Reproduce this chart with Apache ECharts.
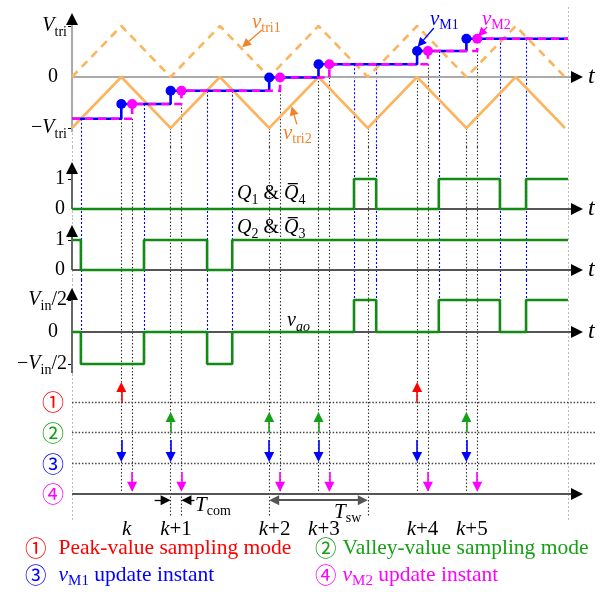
<!DOCTYPE html>
<html>
<head>
<meta charset="utf-8">
<script src="https://cdn.jsdelivr.net/npm/echarts@6.0.0/dist/echarts.min.js"></script>
<style>
html,body{margin:0;padding:0;background:#fff;}
#chart{width:602px;height:592px;}
</style>
</head>
<body>
<div id="chart"></div>
<script>
// ===== DATA (time unit = half carrier period) =====
const triTimes = [0,1,2,3,4,5,6,7,8,9,10];
const vtri1    = [0,1,0,1,0,1,0,1,0,1,0];
const vtri2    = [-1,0,-1,0,-1,0,-1,0,-1,0,-1];

const sampleTimes  = [1,2,4,5,7,8];
const sampleLabels = ['k','k+1','k+2','k+3','k+4','k+5'];
const sampleModes  = ['peak','valley','valley','valley','peak','valley'];
const tCom = 0.22;
const vMInit   = -0.82;
const vMLevels = [-0.53,-0.27,-0.01,0.25,0.51,0.75];
const tEnd = 10.06;

const q1Times  = [0,5.72,6.17,7.44,8.68,9.21];
const q1Vals   = [0,1,0,1,0,1];
const q2Times  = [0,0.18,1.46,2.74,3.25];
const q2Vals   = [1,0,1,0,1];
const vaoTimes = [0,0.18,1.46,2.74,3.25,5.72,6.17,7.44,8.68,9.21];
const vaoVals  = [0,-1,0,-1,0,1,0,1,0,1];

const tswSpan = [4,6];
const tcomIndex = 1;   // T_com marked at sample k+1

const yTicks0 = [1,0,-1];
const yTicks1 = [1,0];
const yTicks3 = [1,0,-1];
const rowValues = [3,2,1,0];
const rowLabels = ['①','②','③','④'];

// ===== LAYOUT =====
const PX = 49.3, LEFT = 72, TMAX = 10.365, TROW = 10.61;
const GRIDS = [
  {top:0,   bottom:147, zero:77,  scale:51},
  {top:147, bottom:218, zero:209, scale:30},
  {top:218, bottom:280, zero:270, scale:30},
  {top:280, bottom:374, zero:332, scale:32},
  {top:374, bottom:494, zero:494, scale:30.67}
];
const BOTTOM_END = -0.85;
const yMin = g => -(g.bottom - g.zero) / g.scale;
const yMax = g => (g.zero - g.top) / g.scale;
const off = (gi, p, dx, dy) => [p[0] + dx / PX, p[1] - dy / GRIDS[gi].scale];

const SERIF = '"Liberation Serif","Times New Roman",serif';
const CJK = '"Noto Sans CJK SC","Noto Sans CJK JP",sans-serif';
const ORANGE = '#FDB45E', ORANGE_T = '#F0832A', GREEN = '#138A13';
const BLUE = '#0000FF', MAG = '#FF00FF', RED = '#FF0000', LGREEN = '#16A016';

function rich(size, color, cGap) {
  const sub = Math.round(size * 0.68);
  const c = {color: color, fill: color};
  return {
    i:  Object.assign({fontFamily:SERIF, fontStyle:'italic', fontSize:size, lineHeight:size+6}, c),
    n:  Object.assign({fontFamily:SERIF, fontSize:size, lineHeight:size+6}, c),
    z:  Object.assign({fontFamily:SERIF, fontSize:size, lineHeight:size+6, padding:[0,9,0,0]}, c),
    s:  Object.assign({fontFamily:SERIF, fontSize:sub, lineHeight:sub, verticalAlign:'bottom'}, c),
    si: Object.assign({fontFamily:SERIF, fontStyle:'italic', fontSize:sub, lineHeight:sub, verticalAlign:'bottom'}, c),
    c:  Object.assign({fontFamily:CJK, fontSize:size, lineHeight:size+6, padding:[0,cGap||12,0,0]}, c)
  };
}

// ===== HELPERS =====
const stepData = (times, vals) => times.map((t,i)=>[t, vals[i]]).concat([[tEnd, vals[vals.length-1]]]);
function stepVal(times, vals, t) { let v = vals[0]; for (let i=0;i<times.length;i++) if (times[i] <= t + 1e-9) v = vals[i]; return v; }
function interp(ts, vs, t) {
  for (let i=0;i<ts.length-1;i++) if (t >= ts[i] && t <= ts[i+1]) return vs[i] + (vs[i+1]-vs[i])*(t-ts[i])/(ts[i+1]-ts[i]);
  return vs[vs.length-1];
}
const vMTimes1 = [0].concat(sampleTimes);
const vMTimes2 = [0].concat(sampleTimes.map(t=>t+tCom));
const vMVals = [vMInit].concat(vMLevels);

const series = [];
function addLines(gi, coordsList, style, opts) {
  if (!coordsList.length) return;
  series.push(Object.assign({
    type:'lines', coordinateSystem:'cartesian2d', xAxisIndex:gi, yAxisIndex:gi,
    silent:true, clip:false, animation:false, symbol:'none', z:2,
    lineStyle: Object.assign({opacity:1, curveness:0}, style),
    data: coordsList.map(c=>({coords:c}))
  }, opts || {}));
}
function vertical(t, g0, v0, g1, v1, buckets) {
  for (let gi=g0; gi<=g1; gi++) {
    const a = gi===g0 ? v0 : yMax(GRIDS[gi]);
    const b = gi===g1 ? v1 : yMin(GRIDS[gi]);
    buckets[gi].push([[t,a],[t,b]]);
  }
}
const emptyBuckets = () => GRIDS.map(()=>[]);

// ---- light grey border lines ----
const greyB = emptyBuckets();
vertical(0, 0, -1.02, 4, BOTTOM_END, greyB);
vertical(tEnd, 0, yMax(GRIDS[0]) - 7/51, 4, BOTTOM_END, greyB);
greyB.forEach((b,gi)=>addLines(gi, b, {color:'#bbb', width:1, type:[2,2]}));

// ---- black dotted sample lines ----
const dimTimes = [sampleTimes[tcomIndex], sampleTimes[tcomIndex]+tCom, tswSpan[0], tswSpan[1]];
const blackB = emptyBuckets();
const sampleLineDefs = [];
sampleTimes.forEach((t,i)=>{
  const old = vMVals[i];
  sampleLineDefs.push([t, Math.min(old, interp(triTimes, vtri2, t))]);
  sampleLineDefs.push([t+tCom, old]);
});
if (!sampleTimes.includes(tswSpan[1])) sampleLineDefs.push([tswSpan[1], interp(triTimes, vtri2, tswSpan[1])]);
sampleLineDefs.forEach(([t,start])=>{
  const ext = dimTimes.some(d=>Math.abs(d-t)<1e-6);
  vertical(t, 0, start, 4, ext ? -0.7 : -0.06, blackB);
});
blackB.forEach((b,gi)=>addLines(gi, b, {color:'#333', width:1.1, type:[1.5,2]}));

// ---- blue dotted switching lines ----
const blueB = emptyBuckets();
vaoTimes.slice(1).forEach((t,i)=>{
  const start = stepVal(vMTimes2, vMVals, t);
  const before = vaoVals[i], after = vaoVals[i+1];
  const end = before !== 0 ? before : after;
  vertical(t, 0, start, 3, end, blueB);
});
blueB.forEach((b,gi)=>addLines(gi, b, {color:BLUE, width:1.1, type:[2,2]}));

// ---- axes drawn from data extents ----
const yAxisDefs = [
  {gi:0, lo:-1.08, tip:1.255, color:'#aaa'},
  {gi:1, lo:0,     tip:(209-162)/30, color:'#666'},
  {gi:2, lo:0,     tip:(270-225)/30, color:'#666'},
  {gi:3, lo:-1.28, tip:(332-288)/32, color:'#666'}
];
const arrowHeads = emptyBuckets();
yAxisDefs.forEach(d=>{
  const tip = [0, d.tip];
  addLines(d.gi, [[[0,d.lo], off(d.gi, tip, 0, 6)]], {color:d.color, width:2});
  arrowHeads[d.gi].push([off(d.gi, tip, 0, 10), off(d.gi, tip, 0, 6)]);
});
[0,1,2,3,4].forEach(gi=>{
  const tip = [TMAX, 0];
  addLines(gi, [[[0,0], off(gi, tip, -6, 0)]], {color: gi===0 ? '#aaa' : '#555', width:2});
  arrowHeads[gi].push([off(gi, tip, -10, 0), off(gi, tip, -6, 0)]);
});
arrowHeads.forEach((b,gi)=>addLines(gi, b, {color:'#000', width:1}, {symbol:['none','triangle'], symbolSize:12, z:5}));

// ---- event row lines ----
addLines(4, rowValues.slice(0,3).map(v=>[[0,v],[TROW,v]]), {color:'#444', width:1.4, type:[1.5,1.8]});

// ---- waveforms ----
series.push({type:'line', xAxisIndex:0, yAxisIndex:0, data:triTimes.map((t,i)=>[t,vtri1[i]]), symbol:'none',
  lineStyle:{color:ORANGE, width:2.6, type:[8,6]}, z:3, animation:false, silent:true});
series.push({type:'line', xAxisIndex:0, yAxisIndex:0, data:triTimes.map((t,i)=>[t,vtri2[i]]), symbol:'none',
  lineStyle:{color:ORANGE, width:2.6}, z:3, animation:false, silent:true});
series.push({type:'line', xAxisIndex:0, yAxisIndex:0, data:stepData(vMTimes1, vMVals), step:'end', symbol:'none',
  lineStyle:{color:BLUE, width:2.6}, z:4, animation:false, silent:true});
series.push({type:'line', xAxisIndex:0, yAxisIndex:0, data:stepData(vMTimes2, vMVals), step:'end', symbol:'none',
  lineStyle:{color:MAG, width:2.6, type:[8,5]}, z:4, animation:false, silent:true});
series.push({type:'scatter', xAxisIndex:0, yAxisIndex:0, data:sampleTimes.map((t,i)=>[t, vMLevels[i]]),
  symbolSize:10, itemStyle:{color:BLUE, opacity:1}, z:6, animation:false, silent:true});
series.push({type:'scatter', xAxisIndex:0, yAxisIndex:0, data:sampleTimes.map((t,i)=>[t+tCom, vMLevels[i]]),
  symbolSize:10, itemStyle:{color:MAG, opacity:1}, z:6, animation:false, silent:true});
[[1,q1Times,q1Vals],[2,q2Times,q2Vals],[3,vaoTimes,vaoVals]].forEach(([gi,ts,vs])=>{
  series.push({type:'line', xAxisIndex:gi, yAxisIndex:gi, data:stepData(ts,vs), step:'end', symbol:'none',
    lineStyle:{color:GREEN, width:2.6}, z:4, animation:false, silent:true});
});

// ---- event arrows ----
const evArrows = {red:[], green:[], blue:[], mag:[]};
sampleTimes.forEach((t,i)=>{
  if (sampleModes[i]==='peak') evArrows.red.push([[t,3], off(4,[t,3.65],0,5)]);
  else evArrows.green.push([[t,2], off(4,[t,2.67],0,5)]);
  evArrows.blue.push([[t,1.76], off(4,[t,1.04],0,-5)]);
  evArrows.mag.push([[t+tCom,0.72], off(4,[t+tCom,0.07],0,-5)]);
});
[['red',RED],['green',LGREEN],['blue',BLUE],['mag',MAG]].forEach(([k,c])=>{
  addLines(4, evArrows[k], {color:c, width:1.6}, {symbol:['none','triangle'], symbolSize:10, z:5});
});

// ---- T_com and T_sw dimension arrows ----
const tc0 = sampleTimes[tcomIndex], tc1 = tc0 + tCom, yd = -0.2;
addLines(4, [[off(4,[tc0,yd],-16,0), off(4,[tc0,yd],-5,0)], [off(4,[tc1,yd],13,0), off(4,[tc1,yd],5,0)]],
  {color:'#000', width:1.3}, {symbol:['none','triangle'], symbolSize:10, z:5});
addLines(4, [[off(4,[tswSpan[0],yd],5,0), off(4,[tswSpan[1],yd],-5,0)]],
  {color:'#555', width:2}, {symbol:['triangle','triangle'], symbolSize:10, z:5});

// ---- annotation pointers ----
addLines(0, [[[3.85,0.92],[3.52,0.64]]], {color:ORANGE_T, width:1.3}, {symbol:['none','triangle'], symbolSize:9, z:6});
addLines(0, [[[4.56,-0.93],[4.48,-0.66]]], {color:ORANGE_T, width:1.3}, {symbol:['none','triangle'], symbolSize:9, z:6});
addLines(0, [[[7.34,0.96],[7.07,0.66]]], {color:BLUE, width:1.3}, {symbol:['none','triangle'], symbolSize:9, z:6});
addLines(0, [[[8.42,0.98],[8.3,0.86]]], {color:MAG, width:1.3}, {symbol:['none','triangle'], symbolSize:9, z:6});

// ===== AXES =====
const near = (a,b)=>Math.abs(a-b)<1e-6;
const yLabelFmt = [
  v => near(v,1) ? '{i|V}{s|tri}' : near(v,0) ? '{z|0}' : '{n|−}{i|V}{s|tri}',
  v => near(v,1) ? '{n|1}' : '{n|0}',
  v => near(v,1) ? '{n|1}' : '{n|0}',
  v => near(v,1) ? '{i|V}{s|in}{n|/2}' : near(v,0) ? '{z|0}' : '{n|−}{i|V}{s|in}{n|/2}',
  v => { const i = rowValues.findIndex(r=>near(r,v)); return '{c'+(i+1)+'|'+rowLabels[i]+'}'; }
];
const rowRich = {};
[RED, LGREEN, BLUE, MAG].forEach((c,i)=>{ rowRich['c'+(i+1)] = {fontFamily:CJK, fontSize:22, color:c}; });
const yTickVals = [yTicks0, yTicks1, yTicks1, yTicks3, rowValues];
const yTickMarks = [[1,-1],[1],[1],[1,-1],[]];
const yMargins = [5,7,7,5,8];

const option = {
  animation:false,
  backgroundColor:'#ffffff',
  grid: GRIDS.map(g=>({left:LEFT, top:g.top, height:g.bottom-g.top, width:TMAX*PX, containLabel:false, outerBoundsMode:'none'})),
  xAxis: GRIDS.map((g,gi)=>({
    type:'value', gridIndex:gi, min:0, max:TMAX,
    axisLine:{show:false, onZero:true}, axisTick:{show:false}, splitLine:{show:false},
    name: gi<4 ? 't' : '', nameLocation:'end', nameGap:5,
    nameTextStyle:{fontFamily:SERIF, fontStyle:'italic', fontSize:24, color:'#000', verticalAlign:'middle'},
    axisLabel: gi===4 ? {
      show:true, customValues: sampleTimes.map(t=>t+tCom/2), margin:22,
      formatter: v => { const i = sampleTimes.findIndex(t=>near(t+tCom/2, v)); const s = sampleLabels[i] || ''; return '{i|k}{n|' + s.slice(1) + '}'; },
      rich: rich(21,'#000')
    } : {show:false}
  })),
  yAxis: GRIDS.map((g,gi)=>({
    type:'value', gridIndex:gi, min:yMin(g), max:yMax(g),
    axisLine:{show:false}, splitLine:{show:false},
    axisTick:{show: yTickMarks[gi].length>0, customValues: yTickMarks[gi].length ? yTickMarks[gi] : [0], length:4, lineStyle:{color:'#000', width:1}},
    axisLabel:{show:true, customValues: yTickVals[gi], margin: yMargins[gi], formatter: yLabelFmt[gi],
      rich: gi===4 ? rowRich : rich(20,'#000')}
  })),
  series: series,
  graphic: []
};

// ===== TEXT ANNOTATIONS =====
function txt(x, y, text, size, color, cGap) {
  option.graphic.push({type:'text', x:x, y:y, silent:true, z:10,
    style:{text:text, rich:rich(size,color,cGap), align:'left', verticalAlign:'middle', textAlign:'left', textVerticalAlign:'middle'}});
}
txt(252, 22, '{i|v}{s|tri1}', 21, ORANGE_T);
txt(283, 133, '{i|v}{s|tri2}', 21, ORANGE_T);
txt(430, 19, '{i|v}{s|M1}', 21, BLUE);
txt(482, 19, '{i|v}{s|M2}', 21, MAG);
txt(237, 194, '{i|Q}{s|1}{n| & }{i|Q\u0305}{s|4}', 20, '#000');
txt(237, 228, '{i|Q}{s|2}{n| & }{i|Q\u0305}{s|3}', 20, '#000');
txt(287, 321, '{i|v}{si|ao}', 20, '#000');
txt(195, 505, '{i|T}{s|com}', 21, '#000');
txt(334, 512, '{i|T}{s|sw}', 21, '#000');
txt(25, 548, '{c|①}{n|Peak-value sampling mode}', 21.5, RED, 12);
txt(315, 548, '{c|②}{n|Valley-value sampling mode}', 21.5, LGREEN, 6);
txt(25, 575, '{c|③}{i|v}{s|M1}{n| update instant}', 21.5, BLUE, 12);
txt(315, 575, '{c|④}{i|v}{s|M2}{n| update instant}', 21.5, MAG, 6);

const chart = echarts.init(document.getElementById('chart'), null, {renderer:'canvas'});
chart.setOption(option);
</script>
</body>
</html>
